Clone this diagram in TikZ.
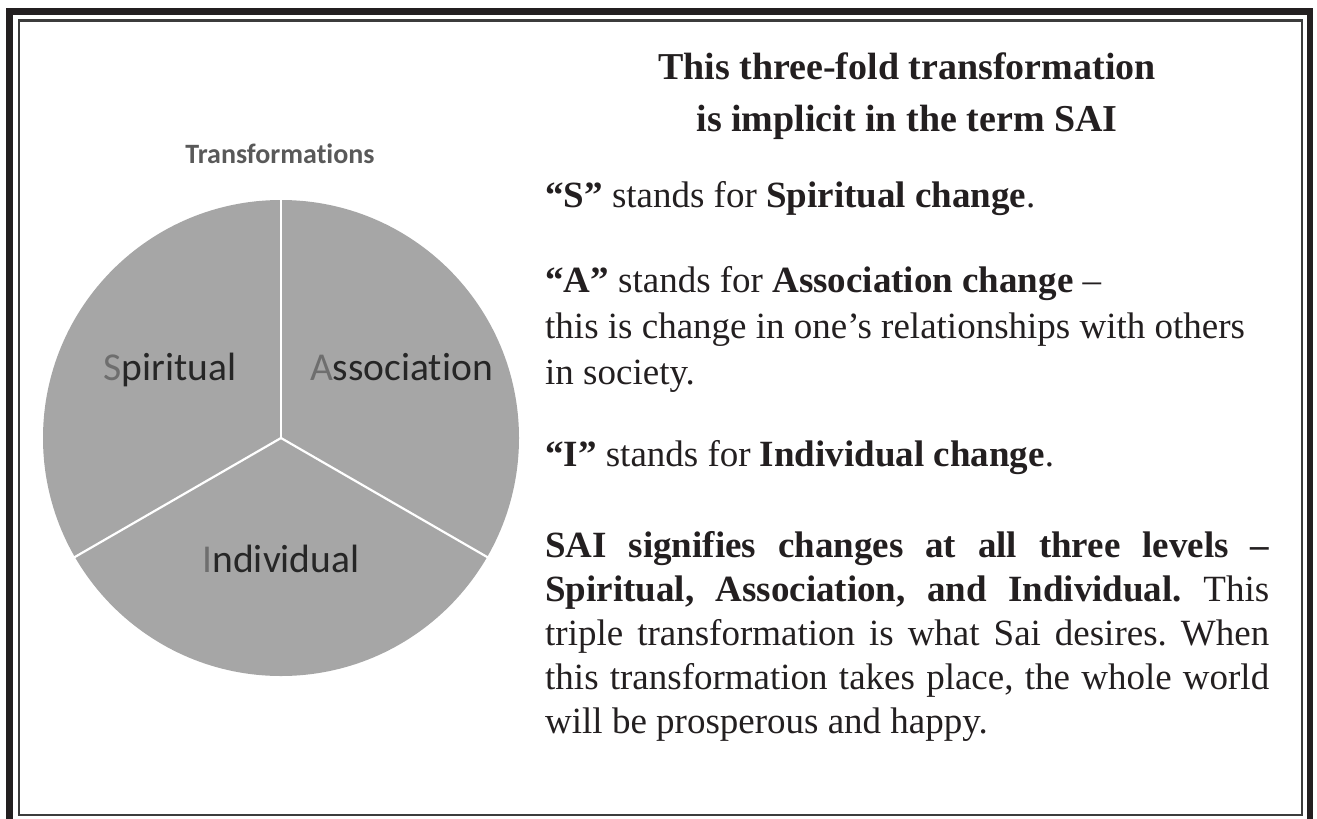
\documentclass[tikz,border=0pt]{standalone}
\usepackage{fontspec}
\setmainfont{Liberation Serif}
\newfontfamily\chartfont[Ligatures=NoCommon]{Carlito}
\frenchspacing

\definecolor{ink}{HTML}{231F20}
\definecolor{piegray}{HTML}{A6A6A6}
\definecolor{titlegray}{HTML}{595959}
\definecolor{initgray}{HTML}{6E6E6E}
\definecolor{rulegray}{HTML}{3C3C3C}

\tikzset{
  head/.style={anchor=base, inner sep=0pt, text=ink, font=\fontsize{38}{50}\selectfont\bfseries},
  body/.style={anchor=base west, inner sep=0pt, text=ink, font=\fontsize{37}{44}\selectfont},
  slice/.style={anchor=base, inner sep=0pt, text=black!85, font=\chartfont\fontsize{39.5}{44}\selectfont},
}
\newcommand{\init}[1]{\textcolor{initgray}{#1}}
\newcommand{\fullline}[1]{\makebox[724pt][s]{#1}}

\begin{document}
\begin{tikzpicture}[x=1pt,y=1pt]
\useasboundingbox (0,0) rectangle (1317,-819);
\clip (0,0) rectangle (1317,-819);
% frame
\draw[line width=6.7pt, ink] (9.4,-11.7) rectangle (1310,-840);
\draw[line width=2.4pt, rulegray] (18.7,-20.3) rectangle (1301.7,-814.7);

% pie chart
\coordinate (c) at (281,-438);
\fill[piegray] (c) circle (238);
\foreach \a in {90,210,330}
  \draw[white, line width=2.2pt] (c) -- ++(\a:239);
\node[anchor=base, inner sep=0pt, text=titlegray, font=\chartfont\bfseries\fontsize{28}{32}\selectfont] (charttitle) at (280,-163) {Transformations};
\node[slice] (spiritual) at (170,-380) {\init{S}piritual};
\node[slice] (association) at (401.5,-380) {\init{A}ssociation};
\node[slice] (individual) at (281,-572) {\init{I}ndividual};

% text column
\node[head] (title1) at (907,-79) {This three-fold transformation};
\node[head] (title2) at (907,-131) {is implicit in the term SAI};

\node[body] (sline) at (545,-207) {\textbf{“S”} stands for \textbf{Spiritual change}.};
\node[body] (aline) at (545,-292) {\textbf{“A”} stands for \textbf{Association change} –};
\node[body] (aline2) at (545,-338) {this is change in one’s relationships with others};
\node[body] (aline3) at (545,-384) {in society.};
\node[body] (iline) at (545,-466) {\textbf{“I”} stands for \textbf{Individual change}.};

\node[body] (sai1) at (545,-557) {\fullline{\bfseries SAI signifies changes at all three levels –}};
\node[body] (sai2) at (545,-601) {\fullline{\textbf{Spiritual, Association, and Individual.} This}};
\node[body] (sai3) at (545,-645) {\fullline{triple transformation is what Sai desires. When}};
\node[body] (sai4) at (545,-689) {\fullline{this transformation takes place, the whole world}};
\node[body] (sai5) at (545,-733) {will be prosperous and happy.};
\end{tikzpicture}
\end{document}
